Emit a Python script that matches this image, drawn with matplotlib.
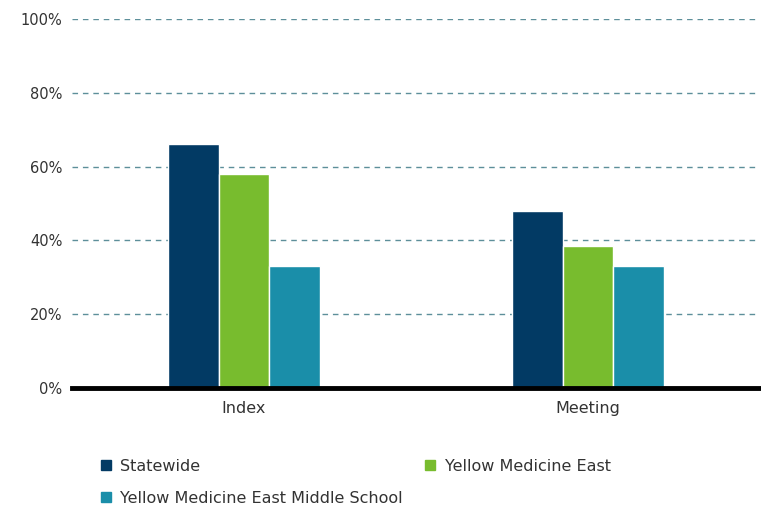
import numpy as np
import matplotlib.pyplot as plt
from matplotlib.lines import Line2D
from matplotlib.ticker import FuncFormatter

categories = ['Index', 'Meeting']
series_names = ['Statewide', 'Yellow Medicine East', 'Yellow Medicine East Middle School']
statewide = [0.66, 0.48]
yme = [0.58, 0.385]
yme_ms = [0.33, 0.33]
colors = ['#023a64', '#78bc2e', '#1a8ea9']

fig = plt.figure(figsize=(7.61, 5.11), dpi=100)
ax = fig.add_axes([0.0946, 0.2407, 0.9041, 0.7221])

x = np.arange(len(categories))
w = 0.148
for i, vals in enumerate([statewide, yme, yme_ms]):
    ax.bar(x + (i - 1) * w, vals, width=w, color=colors[i], edgecolor='white',
           linewidth=1, zorder=3, label=series_names[i])

ax.set_xlim(-0.5, 1.5)
ax.set_ylim(0, 1)
ax.set_yticks(np.arange(0, 1.01, 0.2))
ax.yaxis.set_major_formatter(FuncFormatter(lambda v, p: '%d%%' % round(v * 100)))
ax.grid(axis='y', color='#5d8f9a', linestyle=(0, (4, 3.5)), linewidth=1, zorder=0)
ax.set_xticks(x)
ax.set_xticklabels(categories)

for s in ['top', 'right', 'left']:
    ax.spines[s].set_visible(False)
ax.spines['bottom'].set_linewidth(3.5)
ax.spines['bottom'].set_color('black')
ax.spines['bottom'].set_zorder(4)
ax.tick_params(axis='both', length=0, labelcolor='#333333')
ax.tick_params(axis='y', pad=7, labelsize=10.5)
ax.tick_params(axis='x', pad=9, labelsize=11.5)

handles = [Line2D([], [], marker='s', linestyle='none', markersize=7,
                  color=c) for c in colors]
order = [0, 2, 1]
leg = fig.legend([handles[i] for i in order], [series_names[i] for i in order],
                 ncol=2, loc='upper left', bbox_to_anchor=(0.112, 0.13),
                 frameon=False, fontsize=11.5, handlelength=0.8,
                 handletextpad=0.5, columnspacing=1.3, labelspacing=1.05)
for t in leg.get_texts():
    t.set_color('#333333')

fig.savefig('out.png', dpi=100)
